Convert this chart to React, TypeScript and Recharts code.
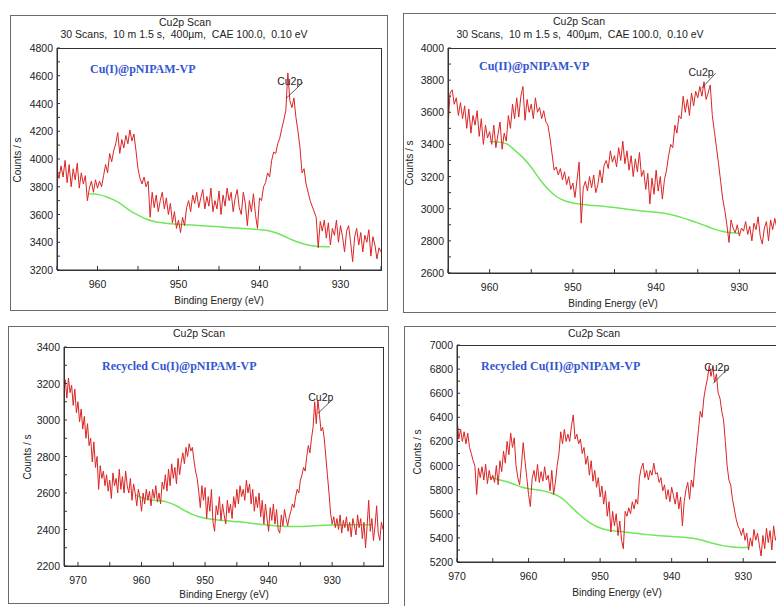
import React from 'react';
import { LineChart, Line, XAxis, YAxis, ReferenceLine, ReferenceDot } from 'recharts';

// ---------------- DATA ----------------
const STEP = 0.25;

// Panel 1: Cu(I)@pNIPAM-VP  (binding energy from 965 eV down, 0.25 eV step)
const p1Start = 965;
const p1Counts = [
  3920, 3860, 3950, 3870,
  3990, 3830, 3960, 3800,
  3930, 3850, 3970, 3790,
  3900, 3820, 3880, 3700,
  3790, 3840, 3760, 3850,
  3790, 3840, 3800, 3880,
  3960, 3900, 4040, 3980,
  4060, 4110, 4190, 4040,
  4140, 4080, 4170, 4110,
  4210, 4130, 4180, 4060,
  3930, 3860, 3820, 3870,
  3800, 3840, 3580, 3760,
  3650, 3740, 3620, 3700,
  3760, 3640, 3720, 3600,
  3680, 3540, 3620, 3500,
  3560, 3470, 3580, 3520,
  3650, 3700, 3620, 3740,
  3680, 3760, 3650, 3720,
  3780, 3640, 3730, 3660,
  3790, 3620, 3700, 3640,
  3770, 3600, 3740, 3660,
  3790, 3700, 3760, 3620,
  3720, 3780, 3650, 3600,
  3760, 3680, 3520, 3700,
  3620, 3750, 3600, 3500,
  3720, 3700, 3800, 3830,
  3900, 3870, 3990, 4050,
  4040, 4110, 4150, 4220,
  4280, 4350, 4620, 4420,
  4370, 4440, 4300, 4200,
  4080, 3900, 3930, 3820,
  3760, 3700, 3660, 3620,
  3580, 3360, 3550, 3480,
  3560, 3430, 3540, 3380,
  3500, 3450, 3560, 3400,
  3520, 3440, 3330, 3480,
  3520, 3400, 3260, 3440,
  3500, 3380, 3470, 3330,
  3450, 3400, 3490, 3300,
  3440, 3380, 3280, 3360,
  3330,
];
const p1BgEnergy = [961, 960, 959, 958, 957, 956, 955, 954, 953, 952, 951, 950, 949, 948, 947, 946, 945, 944, 943, 942, 941, 940, 939, 938, 937, 936, 935, 934, 933, 932, 931.3];
const p1BgCounts = [3750, 3745, 3730, 3705, 3672, 3628, 3595, 3568, 3550, 3540, 3534, 3530, 3527, 3523, 3519, 3515, 3511, 3507, 3503, 3499, 3495, 3491, 3484, 3468, 3445, 3418, 3396, 3380, 3371, 3368, 3368];

// Panel 2: Cu(II)@pNIPAM-VP
const p2Start = 965;
const p2Counts = [
  3510, 3720, 3740, 3650,
  3690, 3580, 3660, 3560,
  3640, 3500, 3620, 3470,
  3580, 3520, 3610, 3450,
  3560, 3400, 3520, 3440,
  3480, 3400, 3520, 3380,
  3460, 3540, 3370, 3470,
  3420, 3580, 3500, 3650,
  3560, 3690, 3570, 3700,
  3760, 3550, 3680, 3600,
  3650, 3560, 3690, 3600,
  3630, 3560, 3610, 3540,
  3520, 3440, 3340, 3240,
  3260, 3210, 3250, 3180,
  3230, 3150, 3200, 3120,
  3160, 3070, 3180, 3290,
  2910, 3130, 3170, 3110,
  3200, 3130, 3210, 3100,
  3150, 3240, 3160, 3270,
  3300, 3250, 3360, 3290,
  3330, 3260, 3380, 3300,
  3420, 3280, 3360, 3240,
  3330, 3200, 3310, 3230,
  3350, 3200, 3240, 3120,
  3220, 3030, 3190, 3090,
  3240, 3110, 3200, 3060,
  3180, 3240, 3330, 3400,
  3380, 3520, 3470, 3580,
  3560, 3700, 3600, 3680,
  3580, 3720, 3640, 3730,
  3690, 3760, 3700, 3790,
  3680, 3720, 3770, 3580,
  3480, 3380, 3280, 3170,
  3060, 2990, 2900, 2790,
  2930, 2880, 2850, 2900,
  2830, 2880, 2860, 2920,
  2840, 2890, 2800, 2910,
  2870, 2950, 2830, 2780,
  2880, 2920, 2800, 2930,
  2870, 2940, 2880, 2900,
  2850,
];
const p2BgEnergy = [960, 959, 958, 957, 956, 955, 954, 953, 952, 951, 950, 949, 948, 947, 946, 945, 944, 943, 942, 941, 940, 939, 938, 937, 936, 935, 934, 933, 932, 931, 930];
const p2BgCounts = [3418, 3415, 3405, 3365, 3318, 3258, 3185, 3122, 3076, 3050, 3036, 3028, 3022, 3018, 3013, 3008, 3001, 2994, 2988, 2983, 2978, 2972, 2961, 2946, 2930, 2912, 2892, 2873, 2858, 2850, 2848];

// Panel 3: Recycled Cu(I)@pNIPAM-VP
const p3Start = 972.25;
const p3Counts = [
  3180, 3220, 3120, 3230,
  3150, 3190, 3080, 3170,
  3040, 3100, 2990, 3060,
  2950, 3020, 2900, 2980,
  2860, 2900, 2770, 2880,
  2740, 2800, 2620, 2750,
  2680, 2720, 2640, 2700,
  2610, 2670, 2570, 2710,
  2640, 2680, 2600, 2730,
  2620, 2690, 2600, 2720,
  2640, 2600, 2680, 2560,
  2650, 2600, 2530, 2620,
  2580, 2500, 2600, 2540,
  2620, 2560, 2610, 2530,
  2620, 2570, 2640, 2550,
  2600, 2540, 2660, 2620,
  2700, 2610, 2730, 2640,
  2760, 2680, 2740, 2650,
  2790, 2700, 2770, 2820,
  2760, 2850, 2800, 2870,
  2830, 2850, 2780, 2720,
  2680, 2610, 2520, 2640,
  2560, 2630, 2460, 2580,
  2500, 2620, 2440, 2390,
  2530, 2480, 2580, 2450,
  2540, 2480, 2430, 2560,
  2490, 2540, 2460, 2580,
  2520, 2620, 2540, 2640,
  2580, 2620, 2560, 2670,
  2600, 2650, 2540, 2620,
  2500, 2580, 2520, 2600,
  2470, 2560, 2430, 2540,
  2460, 2390, 2520, 2450,
  2540, 2430, 2510, 2400,
  2380, 2480, 2420, 2510,
  2460, 2420, 2470, 2500,
  2540, 2520, 2580, 2620,
  2600, 2670, 2700, 2740,
  2720, 2800, 2860, 2820,
  2900, 2960, 3100, 2980,
  3110, 3030, 2940, 2960,
  2900, 2800, 2700, 2600,
  2490, 2430, 2470, 2410,
  2460, 2400, 2480, 2380,
  2450, 2410, 2470, 2390,
  2440, 2360, 2460, 2420,
  2370, 2480, 2410, 2460,
  2350, 2440, 2300, 2420,
  2560, 2390, 2460, 2340,
  2420, 2530, 2380, 2340,
  2440, 2400,
];
const p3BgEnergy = [960.9, 960, 959, 958, 957, 956, 955, 954, 953, 952, 951, 950, 949, 948, 947, 946, 945, 944, 943, 942, 941, 940, 939, 938, 937, 936, 935, 934, 933, 932, 931, 930, 928, 926, 923.8];
const p3BgCounts = [2590, 2575, 2565, 2560, 2557, 2550, 2538, 2520, 2500, 2483, 2470, 2462, 2456, 2452, 2449, 2446, 2443, 2440, 2436, 2431, 2427, 2423, 2420, 2418, 2417, 2417, 2417, 2418, 2420, 2422, 2423, 2424, 2425, 2426, 2426];

// Panel 4: Recycled Cu(II)@pNIPAM-VP
const p4Start = 970;
const p4Counts = [
  6400, 6220, 6300, 6200,
  6280, 6180, 6270, 6150,
  6100, 6040, 6000, 5760,
  5980, 5900, 5990, 5880,
  6010, 5850, 5960, 5880,
  5920, 5860, 6000, 5840,
  6040, 5950, 6120, 6020,
  6200, 6090, 6270, 6150,
  6230, 6000, 5900, 5840,
  6000, 6190, 6040, 5900,
  5760, 5660, 5890, 5960,
  5870, 6010, 5860, 5950,
  5870, 5990, 5880, 5920,
  5790, 5960, 5760, 5860,
  6000, 6100, 6280, 6180,
  6300, 6200, 6260, 6200,
  6330, 6420, 6220, 6260,
  6180, 6220, 6100, 6150,
  6010, 6080, 5920, 6040,
  5870, 5960, 5820, 5900,
  5740, 5830, 5680, 5790,
  5580, 5700, 5450, 5620,
  5500, 5600, 5420, 5540,
  5380, 5310, 5620, 5580,
  5650, 5600, 5700, 5640,
  5720, 5680, 5900, 5980,
  6020, 5900, 5960, 5880,
  5960, 5920, 6020, 5930,
  5940, 5860, 5900, 5790,
  5840, 5720, 5800, 5700,
  5820, 5750, 5680, 5780,
  5640, 5740, 5500, 5700,
  5800, 5860, 5720, 5880,
  5820, 6000, 6150, 6300,
  6450, 6400, 6560, 6650,
  6720, 6830, 6740, 6820,
  6690, 6760, 6600, 6560,
  6450, 6380, 6200, 6000,
  5880, 5840, 5720, 5640,
  5560, 5500, 5470, 5420,
  5480, 5380, 5440, 5300,
  5400, 5330, 5470, 5380,
  5440, 5340, 5250, 5420,
  5310, 5480, 5360, 5460,
  5300, 5500, 5380, 5440,
  5340,
];
const p4BgEnergy = [965.5, 964, 963, 962, 961, 960, 959, 958, 957, 956, 955, 954, 953, 952, 951, 950, 949, 948, 947, 946, 945, 944, 943, 942, 941, 940, 939, 938, 937, 936, 935, 934, 933, 932, 931, 930, 929.2];
const p4BgCounts = [5905, 5880, 5865, 5845, 5822, 5808, 5800, 5790, 5775, 5752, 5712, 5655, 5600, 5550, 5510, 5482, 5466, 5458, 5452, 5445, 5438, 5431, 5425, 5420, 5415, 5411, 5408, 5404, 5397, 5385, 5368, 5352, 5338, 5328, 5322, 5320, 5320];

// Tick values
const xTicks1 = [965, 960, 955, 950, 945, 940, 935, 930, 925];
const xTicks3 = [970, 965, 960, 955, 950, 945, 940, 935, 930, 925];
const yTicks1 = [3200, 3300, 3400, 3500, 3600, 3700, 3800, 3900, 4000, 4100, 4200, 4300, 4400, 4500, 4600, 4700, 4800];
const yTicks2 = [2600, 2700, 2800, 2900, 3000, 3100, 3200, 3300, 3400, 3500, 3600, 3700, 3800, 3900, 4000];
const yTicks3 = [2200, 2300, 2400, 2500, 2600, 2700, 2800, 2900, 3000, 3100, 3200, 3300, 3400];
const yTicks4 = [5200, 5300, 5400, 5500, 5600, 5700, 5800, 5900, 6000, 6100, 6200, 6300, 6400, 6500, 6600, 6700, 6800, 6900, 7000];

// Texts
const scanTitle = 'Cu2p Scan';
const scanInfo = '30 Scans,  10 m 1.5 s,  400µm,  CAE 100.0,  0.10 eV';
const sampleNames = ['Cu(I)@pNIPAM-VP', 'Cu(II)@pNIPAM-VP', 'Recycled Cu(I)@pNIPAM-VP', 'Recycled Cu(II)@pNIPAM-VP'];
const peakName = 'Cu2p';
const yTitle = 'Counts / s';
const xTitle = 'Binding Energy (eV)';

// Peak marker anchors (eV, counts): line start, line end, label
const peakMarks = [
  { a: [936.69, 4438], b: [934.63, 4553], t: [936.27, 4562] },
  { a: [934.55, 3749], b: [932.85, 3843], t: [934.6, 3850] },
  { a: [932.26, 3036], b: [930.06, 3109], t: [931.79, 3127] },
  { a: [934.2, 6682], b: [932.1, 6807], t: [933.7, 6816] },
];

// ---------------- HELPERS ----------------
const toSeries = (start: number, vals: number[]) => vals.map((v, i) => ({ e: +(start - i * STEP).toFixed(2), v }));
const toPairs = (es: number[], vs: number[]) => es.map((e, i) => ({ e, v: vs[i] }));

const AX = '#333';
const TXT = '#222';
const SANS = '"Liberation Sans", Arial, sans-serif';
const SERIF = '"Liberation Serif", "Times New Roman", serif';

const XTick = (props: any) => {
  const { x, y, payload } = props;
  const v = payload.value;
  return (
    <g>
      <line x1={x} x2={x} y1={y} y2={y - 4} stroke={AX} strokeWidth={1} />
      {v % 10 === 0 ? (
        <text x={x} y={y + 14} textAnchor="middle" dominantBaseline="central" fontSize={10.5} fill={TXT} fontFamily={SANS}>{v}</text>
      ) : null}
    </g>
  );
};

const YTick = (props: any) => {
  const { x, y, payload } = props;
  const v = payload.value;
  return (
    <g>
      <line x1={x} x2={x + 3} y1={y} y2={y} stroke={AX} strokeWidth={1} />
      {v % 200 === 0 ? (
        <text x={x - 4} y={y} textAnchor="end" dominantBaseline="central" fontSize={10.5} fill={TXT} fontFamily={SANS}>{v}</text>
      ) : null}
    </g>
  );
};

type Rect = { l: number; t: number; r: number; b: number };

const Txt = ({ x, y, children, size = 10.5, rotate = false, style = {} }: any) => (
  <div
    style={{
      position: 'absolute', left: x, top: y, transform: `translate(-50%, -50%)${rotate ? ' rotate(-90deg)' : ''}`,
      whiteSpace: 'pre', fontSize: size, lineHeight: 1, fontFamily: SANS, color: TXT, ...style,
    }}
  >
    {children}
  </div>
);

function Panel(p: {
  frame: Rect; plot: Rect; xDomain: number[]; yDomain: number[]; xTicks: number[]; yTicks: number[];
  spectrum: { e: number; v: number }[]; background: { e: number; v: number }[];
  mark: { a: number[]; b: number[]; t: number[] };
  title: number[]; info?: number[]; sample: string; samplePos: number[]; yLab: number[]; xLab: number[];
}) {
  const ML = 50, MT = 10, MR = 10, MB = 30;
  const pw = p.plot.r - p.plot.l;
  const ph = p.plot.b - p.plot.t;
  return (
    <>
      <div style={{ position: 'absolute', left: p.frame.l, top: p.frame.t, width: p.frame.r - p.frame.l, height: p.frame.b - p.frame.t, border: '1px solid #6a6a6a', boxSizing: 'border-box' }} />
      <div style={{ position: 'absolute', left: p.plot.l - ML, top: p.plot.t - MT }}>
        <LineChart width={pw + ML + MR} height={ph + MT + MB} margin={{ top: MT, right: MR, bottom: 0, left: 0 }}>
          <XAxis dataKey="e" type="number" domain={p.xDomain} reversed allowDataOverflow ticks={p.xTicks} interval={0}
            height={MB} tickSize={0} tickMargin={0} tickLine={false} axisLine={{ stroke: AX }} tick={(t: any) => <XTick {...t} />} />
          <YAxis type="number" domain={p.yDomain} allowDataOverflow ticks={p.yTicks} interval={0}
            width={ML} tickSize={0} tickMargin={0} tickLine={false} axisLine={{ stroke: AX }} tick={(t: any) => <YTick {...t} />} />
          <Line data={p.background} dataKey="v" type="monotone" stroke="#6ee85a" strokeWidth={1.5} dot={false} isAnimationActive={false} />
          <Line data={p.spectrum} dataKey="v" type="linear" stroke="#dc2424" strokeWidth={1} dot={false} isAnimationActive={false} />
          <ReferenceLine segment={[{ x: p.mark.a[0], y: p.mark.a[1] }, { x: p.mark.b[0], y: p.mark.b[1] }]} stroke="#333" strokeWidth={0.8} />
          <ReferenceDot x={p.mark.t[0]} y={p.mark.t[1]} r={0} fill="none" stroke="none"
            label={{ value: peakName, position: 'center', fontSize: 10.5, fill: TXT, fontFamily: SANS }} />
        </LineChart>
      </div>
      <div style={{ position: 'absolute', left: p.plot.l, top: p.plot.t, width: pw + 1, height: ph + 1, border: `1px solid ${AX}`, boxSizing: 'border-box', pointerEvents: 'none' }} />
      <Txt x={p.title[0]} y={p.title[1]}>{scanTitle}</Txt>
      {p.info ? <Txt x={p.info[0]} y={p.info[1]}>{scanInfo}</Txt> : null}
      <div style={{ position: 'absolute', left: p.samplePos[0], top: p.samplePos[1], transform: 'translateY(-50%)', fontFamily: SERIF, fontWeight: 'bold', fontSize: 12, lineHeight: 1, color: '#3355d0', whiteSpace: 'pre' }}>{p.sample}</div>
      <Txt x={p.yLab[0]} y={p.yLab[1]} rotate size={10}>{yTitle}</Txt>
      <Txt x={p.xLab[0]} y={p.xLab[1]} size={10}>{xTitle}</Txt>
    </>
  );
}

export default function App() {
  return (
    <div style={{ position: 'fixed', left: 0, top: 0, width: 776, height: 606, overflow: 'hidden', background: '#fff' }}>
      <Panel
        frame={{ l: 10, t: 15, r: 388, b: 311 }} plot={{ l: 57, t: 48, r: 381, b: 270 }}
        xDomain={[925, 965]} yDomain={[3200, 4800]} xTicks={xTicks1} yTicks={yTicks1}
        spectrum={toSeries(p1Start, p1Counts)} background={toPairs(p1BgEnergy, p1BgCounts)} mark={peakMarks[0]}
        title={[185, 22]} info={[184, 34]} sample={sampleNames[0]} samplePos={[90, 69]} yLab={[18, 160]} xLab={[219, 301]}
      />
      <Panel
        frame={{ l: 403, t: 13, r: 800, b: 313 }} plot={{ l: 448, t: 48, r: 781, b: 273 }}
        xDomain={[925, 965]} yDomain={[2600, 4000]} xTicks={xTicks1} yTicks={yTicks2}
        spectrum={toSeries(p2Start, p2Counts)} background={toPairs(p2BgEnergy, p2BgCounts)} mark={peakMarks[1]}
        title={[579, 21]} info={[580, 34]} sample={sampleNames[1]} samplePos={[479, 66]} yLab={[410, 163]} xLab={[613, 304]}
      />
      <Panel
        frame={{ l: 8, t: 326, r: 389, b: 604 }} plot={{ l: 64, t: 347, r: 383, b: 566 }}
        xDomain={[922, 972.2]} yDomain={[2200, 3400]} xTicks={xTicks3} yTicks={yTicks3}
        spectrum={toSeries(p3Start, p3Counts)} background={toPairs(p3BgEnergy, p3BgCounts)} mark={peakMarks[2]}
        title={[199, 333]} sample={sampleNames[2]} samplePos={[102, 366]} yLab={[28, 457]} xLab={[224, 595]}
      />
      <Panel
        frame={{ l: 404, t: 326, r: 800, b: 620 }} plot={{ l: 457, t: 345, r: 779, b: 562 }}
        xDomain={[925, 970]} yDomain={[5200, 7000]} xTicks={xTicks3} yTicks={yTicks4}
        spectrum={toSeries(p4Start, p4Counts)} background={toPairs(p4BgEnergy, p4BgCounts)} mark={peakMarks[3]}
        title={[594, 333]} sample={sampleNames[3]} samplePos={[481, 366]} yLab={[418, 452]} xLab={[617, 593]}
      />
    </div>
  );
}
